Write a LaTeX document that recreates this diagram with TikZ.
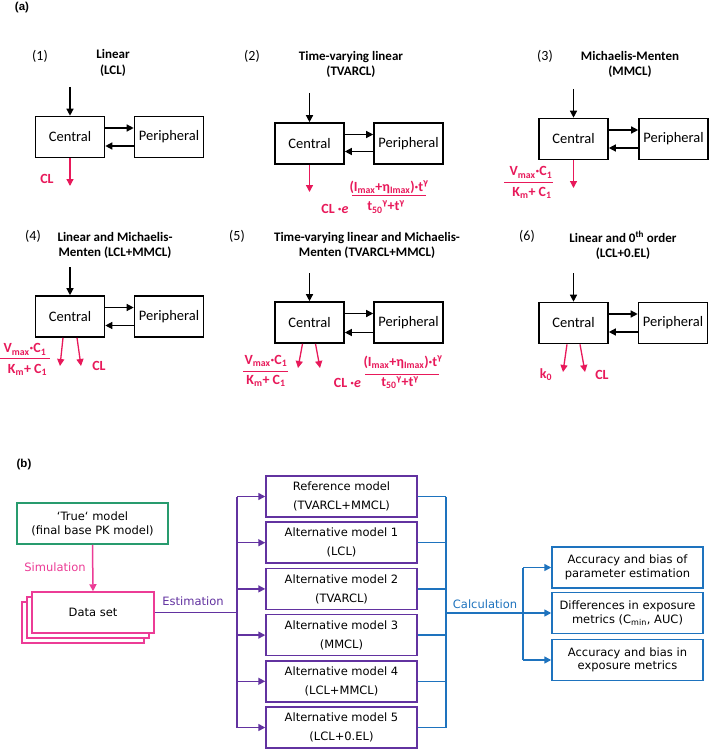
\documentclass[tikz,border=0pt]{standalone}
\usepackage{fontspec}
\setmainfont{Carlito}
\newfontfamily\vfont{DejaVu Sans}
\newfontfamily\lfont{Liberation Sans}
\usetikzlibrary{arrows.meta}
\definecolor{cred}{RGB}{232,25,90}
\definecolor{cpink}{RGB}{236,60,150}
\definecolor{cpurple}{RGB}{98,50,160}
\definecolor{cblue}{RGB}{30,115,190}
\definecolor{cgreen}{RGB}{40,155,110}
\tikzset{
  comp/.style={draw, line width=1.6pt, minimum width=69pt, minimum height=41pt, inner sep=0pt, font=\fontsize{14.5}{16}\selectfont},
  arr/.style={-{Triangle[length=7pt,width=7pt]}, line width=1.3pt},
  rarr/.style={-{Triangle[length=7pt,width=7pt]}, line width=1.3pt, draw=cred},
  rlab/.style={text=cred, font=\bfseries\fontsize{14}{16}\selectfont, inner sep=0pt},
  fbar/.style={draw=cred, line width=1pt},
  ttl/.style={align=center, font=\bfseries\fontsize{13}{15.5}\selectfont, inner sep=0pt},
  num/.style={font=\fontsize{14}{16}\selectfont, inner sep=0pt},
  plab/.style={font=\lfont\bfseries\fontsize{11.5}{13}\selectfont, inner sep=0pt},
  bbox/.style={draw, line width=1.5pt, minimum width=151pt, minimum height=41pt, inner sep=0pt, align=center, fill=white},
  mbox/.style={bbox, draw=cpurple, font=\vfont\fontsize{11.5}{19}\selectfont},
  rbox/.style={bbox, draw=cblue, font=\vfont\fontsize{11.5}{13.5}\selectfont},
  parr/.style={-{Triangle[length=7pt,width=7pt]}, line width=1.5pt, draw=cpurple},
  barr/.style={-{Triangle[length=7pt,width=7pt]}, line width=1.5pt, draw=cblue},
  blab/.style={font=\vfont\fontsize{11.5}{13}\selectfont, inner sep=0pt}
}
\begin{document}
\begin{tikzpicture}[x=1pt,y=-1pt]
\useasboundingbox (0,0) rectangle (709,749);
\fill[white] (0,0) rectangle (709,749);
% ---------- panel (a)
\node[plab] (pa) at (22,8) {(a)};
% model 1
\node[num] (n1) at (40,56) {(1)};
\node[ttl] (t1) at (113,63) {Linear\\(LCL)};
\node[comp] (c1) at (70,137) {Central};
\node[comp] (p1) at (169,137) {Peripheral};
\coordinate (i1) at (70,87);
\draw[arr] (i1) -- (c1.north);
\draw[arr] ([yshift=9pt]c1.east) -- ([yshift=9pt]p1.west);
\draw[arr] ([yshift=-9pt]p1.west) -- ([yshift=-9pt]c1.east);
\coordinate (o1) at (70,186);
\draw[rarr] (c1.south) -- (o1);
\node[rlab] (l1) at (47,179) {CL};
% model 2
\node[num] (n2) at (252,56) {(2)};
\node[ttl] (t2) at (351,64.5) {Time-varying linear\\(TVARCL)};
\node[comp] (c2) at (309.5,143.5) {Central};
\node[comp] (p2) at (408.5,143.5) {Peripheral};
\coordinate (i2) at (309.5,93);
\draw[arr] (i2) -- (c2.north);
\draw[arr] ([yshift=9pt]c2.east) -- ([yshift=9pt]p2.west);
\draw[arr] ([yshift=-8pt]p2.west) -- ([yshift=-8pt]c2.east);
\coordinate (o2) at (309.5,192);
\draw[rarr] (c2.south) -- (o2);
\node[rlab] (l2a) at (335,209) {CL ·\textit{e}};
\node[rlab] (l2n) at (389,187) {(I\textsubscript{max}+η\textsubscript{Imax})·t\textsuperscript{γ}};
\draw[fbar] (352,195) -- (426,195);
\node[rlab] (l2d) at (386,207) {t\textsubscript{50}\textsuperscript{γ}+t\textsuperscript{γ}};
% model 3
\node[num] (n3) at (545,56) {(3)};
\node[ttl] (t3) at (630,64.5) {Michaelis-Menten\\(MMCL)};
\node[comp] (c3) at (573.5,139) {Central};
\node[comp] (p3) at (673.5,139) {Peripheral};
\coordinate (i3) at (573.5,89);
\draw[arr] (i3) -- (c3.north);
\draw[arr] ([yshift=9pt]c3.east) -- ([yshift=9pt]p3.west);
\draw[arr] ([yshift=-9pt]p3.west) -- ([yshift=-9pt]c3.east);
\coordinate (o3) at (573.5,188);
\draw[rarr] (c3.south) -- (o3);
\node[rlab] (l3n) at (531,172.5) {V\textsubscript{max}·C\textsubscript{1}};
\draw[fbar] (504,182) -- (553,182);
\node[rlab] (l3d) at (532,192.5) {K\textsubscript{m}+ C\textsubscript{1}};
% model 4
\node[num] (n4) at (33,236) {(4)};
\node[ttl] (t4) at (115,245.5) {Linear and Michaelis-\\Menten (LCL+MMCL)};
\node[comp] (c4) at (70,316.5) {Central};
\node[comp] (p4) at (169,316.5) {Peripheral};
\coordinate (i4) at (70,267);
\draw[arr] (i4) -- (c4.north);
\draw[arr] ([yshift=9pt]c4.east) -- ([yshift=9pt]p4.west);
\draw[arr] ([yshift=-9pt]p4.west) -- ([yshift=-9pt]c4.east);
\coordinate (o4a) at (60,366);
\coordinate (o4b) at (81,366);
\draw[rarr] ([xshift=-7pt]c4.south) -- (o4a);
\draw[rarr] ([xshift=7pt]c4.south) -- (o4b);
\node[rlab] (l4n) at (25,349.5) {V\textsubscript{max}·C\textsubscript{1}};
\draw[fbar] (0,358) -- (50,358);
\node[rlab] (l4d) at (27.5,369.5) {K\textsubscript{m}+ C\textsubscript{1}};
\node[rlab] (l4c) at (99,366) {CL};
% model 5
\node[num] (n5) at (237,236) {(5)};
\node[ttl] (t5) at (367,245.5) {Time-varying linear and Michaelis-\\Menten (TVARCL+MMCL)};
\node[comp] (c5) at (309.5,322.5) {Central};
\node[comp] (p5) at (408.5,322.5) {Peripheral};
\coordinate (i5) at (309.5,273);
\draw[arr] (i5) -- (c5.north);
\draw[arr] ([yshift=9pt]c5.east) -- ([yshift=9pt]p5.west);
\draw[arr] ([yshift=-10pt]p5.west) -- ([yshift=-10pt]c5.east);
\coordinate (o5a) at (298,368);
\coordinate (o5b) at (320,368);
\draw[rarr] ([xshift=-7pt]c5.south) -- (o5a);
\draw[rarr] ([xshift=6pt]c5.south) -- (o5b);
\node[rlab] (l5n) at (266,361) {V\textsubscript{max}·C\textsubscript{1}};
\draw[fbar] (243,371) -- (288,371);
\node[rlab] (l5d) at (266,381) {K\textsubscript{m}+ C\textsubscript{1}};
\node[rlab] (l5a) at (347.5,382.5) {CL ·\textit{e}};
\node[rlab] (l5e) at (403,362) {(I\textsubscript{max}+η\textsubscript{Imax})·t\textsuperscript{γ}};
\draw[fbar] (365,374) -- (439,374);
\node[rlab] (l5f) at (400,382.5) {t\textsubscript{50}\textsuperscript{γ}+t\textsuperscript{γ}};
% model 6
\node[num] (n6) at (527,236) {(6)};
\node[ttl] (t6) at (623,245.5) {Linear and 0\textsuperscript{th} order\\(LCL+0.EL)};
\node[comp] (c6) at (573.5,323) {Central};
\node[comp] (p6) at (673,323) {Peripheral};
\coordinate (i6) at (573.5,273);
\draw[arr] (i6) -- (c6.north);
\draw[arr] ([yshift=9pt]c6.east) -- ([yshift=9pt]p6.west);
\draw[arr] ([yshift=-9pt]p6.west) -- ([yshift=-9pt]c6.east);
\coordinate (o6a) at (563,372);
\coordinate (o6b) at (585,372);
\draw[rarr] ([xshift=-6.5pt]c6.south) -- (o6a);
\draw[rarr] ([xshift=6.5pt]c6.south) -- (o6b);
\node[rlab] (l6a) at (546,375) {k\textsubscript{0}};
\node[rlab] (l6b) at (602,375) {CL};
% ---------- panel (b)
\node[plab] (pb) at (24,465) {(b)};
\node[bbox, draw=cgreen, font=\vfont\fontsize{11.5}{14}\selectfont] (tm) at (92.5,523.5) {‘True‘ model\\(final base PK model)};
\node[bbox, draw=cpink, minimum width=122pt] (ds3) at (83,622.5) {};
\node[bbox, draw=cpink, minimum width=122pt] (ds2) at (88,617.5) {};
\node[bbox, draw=cpink, minimum width=122pt, font=\vfont\fontsize{11.5}{13}\selectfont] (ds) at (93,612.5) {Data set};
\draw[-{Triangle[length=7pt,width=7pt]}, line width=1.5pt, draw=cpink] (tm.south) -- (ds.north);
\node[blab, text=cpink] (sim) at (55,567) {Simulation};
% model boxes
\node[mbox] (m1) at (341.5,496.5) {Reference model\\(TVARCL+MMCL)};
\node[mbox] (m2) at (341.5,542.7) {Alternative model 1\\(LCL)};
\node[mbox] (m3) at (341.5,588.9) {Alternative model 2\\(TVARCL)};
\node[mbox] (m4) at (341.5,635.1) {Alternative model 3\\(MMCL)};
\node[mbox] (m5) at (341.5,681.3) {Alternative model 4\\(LCL+MMCL)};
\node[mbox] (m6) at (341.5,727.5) {Alternative model 5\\(LCL+0.EL)};
\coordinate (pj) at (237,612.5);
\draw[line width=1.5pt, draw=cpurple] (ds.east) -- (pj);
\draw[line width=1.5pt, draw=cpurple] (pj |- m1.west) -- (pj |- m6.west);
\foreach \m in {m1,m2,m3,m4,m5,m6} { \draw[parr] (pj |- \m.west) -- (\m.west); }
\node[blab, text=cpurple] (est) at (193,601) {Estimation};
% result boxes
\node[rbox] (r1) at (627.5,567.5) {Accuracy and bias of\\parameter estimation};
\node[rbox] (r2) at (627.5,613) {Differences in exposure\\metrics (C\textsubscript{min}, AUC)};
\node[rbox] (r3) at (627.5,660) {Accuracy and bias in\\exposure metrics};
\coordinate (bj) at (446,613);
\coordinate (bk) at (523,613);
\foreach \m in {m1,m2,m3,m4,m5,m6} { \draw[line width=1.5pt, draw=cblue] (\m.east) -- (bj |- \m.east); }
\draw[line width=1.5pt, draw=cblue] (bj |- m1.east) -- (bj |- m6.east);
\draw[line width=1.5pt, draw=cblue] (bj) -- (bk);
\draw[line width=1.5pt, draw=cblue] (bk |- r1.west) -- (bk |- r3.west);
\foreach \r in {r1,r2,r3} { \draw[barr] (bk |- \r.west) -- (\r.west); }
\node[blab, text=cblue] (calc) at (485,604) {Calculation};
\end{tikzpicture}
\end{document}
